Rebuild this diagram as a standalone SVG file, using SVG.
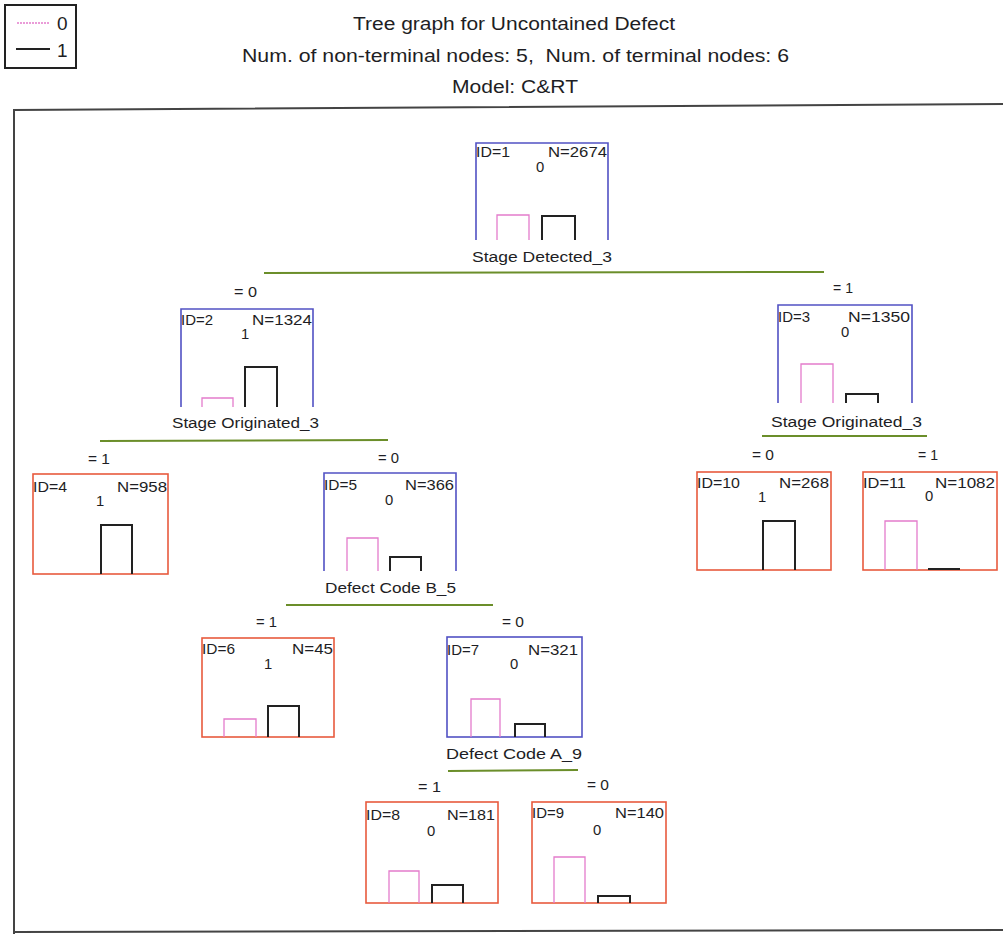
<svg xmlns="http://www.w3.org/2000/svg" width="1003" height="934" viewBox="0 0 1003 934">
<style>
text{font-family:"Liberation Sans",Arial,sans-serif;fill:#1e1e24}
.h{font-size:17.5px}
.g{font-size:19px}
.t{font-size:14.8px}
.l{font-size:15.2px}
.nb{fill:none;stroke:#5252c4;stroke-width:1.6}
.tb{fill:none;stroke:#e85a3e;stroke-width:1.6}
.pk{fill:none;stroke:#e47ccc;stroke-width:1.3}
.bk{fill:none;stroke:#222;stroke-width:2}
.sp{stroke:#6b8e2a;stroke-width:2}
.fr{fill:none;stroke:#444;stroke-width:2}
</style>
<rect width="1003" height="934" fill="#fff"/>
<g id="legend">
<rect x="5" y="5" width="71" height="63" fill="none" stroke="#222" stroke-width="2"/>
<line x1="17" y1="23" x2="50" y2="23" stroke="#e47ccc" stroke-width="1.3" stroke-dasharray="2,1"/>
<text class="g" x="57" y="30">0</text>
<line x1="16" y1="49" x2="50" y2="49" stroke="#222" stroke-width="2"/>
<text class="g" x="57" y="57">1</text>
</g>
<g id="title">
<text class="h" x="353" y="30" textLength="322" lengthAdjust="spacingAndGlyphs">Tree graph for Uncontained Defect</text>
<text class="h" x="242" y="62" textLength="547" lengthAdjust="spacingAndGlyphs" xml:space="preserve">Num. of non-terminal nodes: 5,  Num. of terminal nodes: 6</text>
<text class="h" x="452" y="93" textLength="126" lengthAdjust="spacingAndGlyphs">Model: C&amp;RT</text>
</g>
<path class="fr" d="M14,934 V110 L1003,104 M14,932 L1003,930"/>
<g id="connectors">
<line class="sp" x1="264" y1="273" x2="824" y2="272"/>
<line class="sp" x1="100" y1="441" x2="388" y2="440"/>
<line class="sp" x1="762" y1="436" x2="927" y2="436"/>
<line class="sp" x1="286" y1="605" x2="493" y2="605"/>
<line class="sp" x1="448" y1="771" x2="578" y2="770"/>
<text class="t" x="234" y="297" textLength="23" lengthAdjust="spacingAndGlyphs">= 0</text>
<text class="t" x="833" y="293" textLength="20" lengthAdjust="spacingAndGlyphs">= 1</text>
<text class="t" x="88" y="464" textLength="22" lengthAdjust="spacingAndGlyphs">= 1</text>
<text class="t" x="378" y="463" textLength="21" lengthAdjust="spacingAndGlyphs">= 0</text>
<text class="t" x="752" y="460" textLength="22" lengthAdjust="spacingAndGlyphs">= 0</text>
<text class="t" x="918" y="460" textLength="20" lengthAdjust="spacingAndGlyphs">= 1</text>
<text class="t" x="256" y="627" textLength="21" lengthAdjust="spacingAndGlyphs">= 1</text>
<text class="t" x="502" y="627" textLength="22" lengthAdjust="spacingAndGlyphs">= 0</text>
<text class="t" x="418" y="792" textLength="23" lengthAdjust="spacingAndGlyphs">= 1</text>
<text class="t" x="587" y="790" textLength="22" lengthAdjust="spacingAndGlyphs">= 0</text>
</g>
<g id="node1">
<path class="nb" d="M476,240 V143 H608 V240"/>
<text class="t" x="476" y="157" textLength="34" lengthAdjust="spacingAndGlyphs">ID=1</text>
<text class="t" x="548" y="157" textLength="59" lengthAdjust="spacingAndGlyphs">N=2674</text>
<text class="t" x="536" y="172">0</text>
<path class="pk" d="M497,240 V215 H529 V240"/>
<path class="bk" d="M542,240 V216 H575 V240"/>
<text class="l" x="472" y="262" textLength="140" lengthAdjust="spacingAndGlyphs">Stage Detected_3</text>
</g>
<g id="node2">
<path class="nb" d="M181,407 V309 H313 V407"/>
<text class="t" x="181" y="325" textLength="32" lengthAdjust="spacingAndGlyphs">ID=2</text>
<text class="t" x="252" y="325" textLength="60" lengthAdjust="spacingAndGlyphs">N=1324</text>
<text class="t" x="241" y="339">1</text>
<path class="pk" d="M202,407 V398 H233 V407"/>
<path class="bk" d="M245,407 V367 H277 V407"/>
<text class="l" x="172" y="428" textLength="147" lengthAdjust="spacingAndGlyphs">Stage Originated_3</text>
</g>
<g id="node3">
<path class="nb" d="M778,403 V305 H912 V403"/>
<text class="t" x="778" y="322" textLength="32" lengthAdjust="spacingAndGlyphs">ID=3</text>
<text class="t" x="848" y="322" textLength="62" lengthAdjust="spacingAndGlyphs">N=1350</text>
<text class="t" x="841" y="337">0</text>
<path class="pk" d="M801,403 V364 H833 V403"/>
<path class="bk" d="M846,403 V394 H878 V403"/>
<text class="l" x="771" y="427" textLength="151" lengthAdjust="spacingAndGlyphs">Stage Originated_3</text>
</g>
<g id="node4">
<rect class="tb" x="33" y="474" width="135" height="100"/>
<text class="t" x="33" y="492" textLength="34" lengthAdjust="spacingAndGlyphs">ID=4</text>
<text class="t" x="117" y="492" textLength="50" lengthAdjust="spacingAndGlyphs">N=958</text>
<text class="t" x="96" y="506">1</text>
<path class="bk" d="M101,574 V525 H132 V574"/>
</g>
<g id="node5">
<path class="nb" d="M324,571 V473 H456 V571"/>
<text class="t" x="324" y="490" textLength="33" lengthAdjust="spacingAndGlyphs">ID=5</text>
<text class="t" x="405" y="490" textLength="49" lengthAdjust="spacingAndGlyphs">N=366</text>
<text class="t" x="385" y="505">0</text>
<path class="pk" d="M347,571 V538 H378 V571"/>
<path class="bk" d="M390,571 V557 H421 V571"/>
<text class="l" x="325" y="593" textLength="131" lengthAdjust="spacingAndGlyphs">Defect Code B_5</text>
</g>
<g id="node10">
<rect class="tb" x="697" y="472" width="134" height="98"/>
<text class="t" x="697" y="488" textLength="43" lengthAdjust="spacingAndGlyphs">ID=10</text>
<text class="t" x="779" y="488" textLength="50" lengthAdjust="spacingAndGlyphs">N=268</text>
<text class="t" x="758" y="502">1</text>
<path class="bk" d="M763,570 V521 H795 V570"/>
</g>
<g id="node11">
<rect class="tb" x="863" y="472" width="134" height="98"/>
<text class="t" x="863" y="488" textLength="43" lengthAdjust="spacingAndGlyphs">ID=11</text>
<text class="t" x="935" y="488" textLength="60" lengthAdjust="spacingAndGlyphs">N=1082</text>
<text class="t" x="925" y="501">0</text>
<path class="pk" d="M885,570 V521 H917 V570"/>
<line class="bk" x1="928" y1="569" x2="960" y2="569"/>
</g>
<g id="node6">
<rect class="tb" x="202" y="638" width="132" height="99"/>
<text class="t" x="202" y="654" textLength="33" lengthAdjust="spacingAndGlyphs">ID=6</text>
<text class="t" x="292" y="654" textLength="41" lengthAdjust="spacingAndGlyphs">N=45</text>
<text class="t" x="264" y="669">1</text>
<path class="pk" d="M224,737 V719 H256 V737"/>
<path class="bk" d="M268,737 V706 H299 V737"/>
</g>
<g id="node7">
<rect class="nb" x="447" y="637" width="135" height="100"/>
<text class="t" x="447" y="655" textLength="32" lengthAdjust="spacingAndGlyphs">ID=7</text>
<text class="t" x="528" y="655" textLength="50" lengthAdjust="spacingAndGlyphs">N=321</text>
<text class="t" x="510" y="669">0</text>
<path class="pk" d="M471,737 V699 H500 V737"/>
<path class="bk" d="M515,737 V724 H545 V737"/>
<text class="l" x="446" y="759" textLength="136" lengthAdjust="spacingAndGlyphs">Defect Code A_9</text>
</g>
<g id="node8">
<rect class="tb" x="366" y="802" width="132" height="101"/>
<text class="t" x="366" y="820" textLength="34" lengthAdjust="spacingAndGlyphs">ID=8</text>
<text class="t" x="447" y="820" textLength="48" lengthAdjust="spacingAndGlyphs">N=181</text>
<text class="t" x="427" y="836">0</text>
<path class="pk" d="M389,903 V871 H419 V903"/>
<path class="bk" d="M432,903 V885 H463 V903"/>
</g>
<g id="node9">
<rect class="tb" x="532" y="802" width="134" height="101"/>
<text class="t" x="532" y="818" textLength="32" lengthAdjust="spacingAndGlyphs">ID=9</text>
<text class="t" x="615" y="818" textLength="49" lengthAdjust="spacingAndGlyphs">N=140</text>
<text class="t" x="593" y="835">0</text>
<path class="pk" d="M554,903 V857 H585 V903"/>
<path class="bk" d="M598,903 V896 H630 V903"/>
</g>
</svg>
